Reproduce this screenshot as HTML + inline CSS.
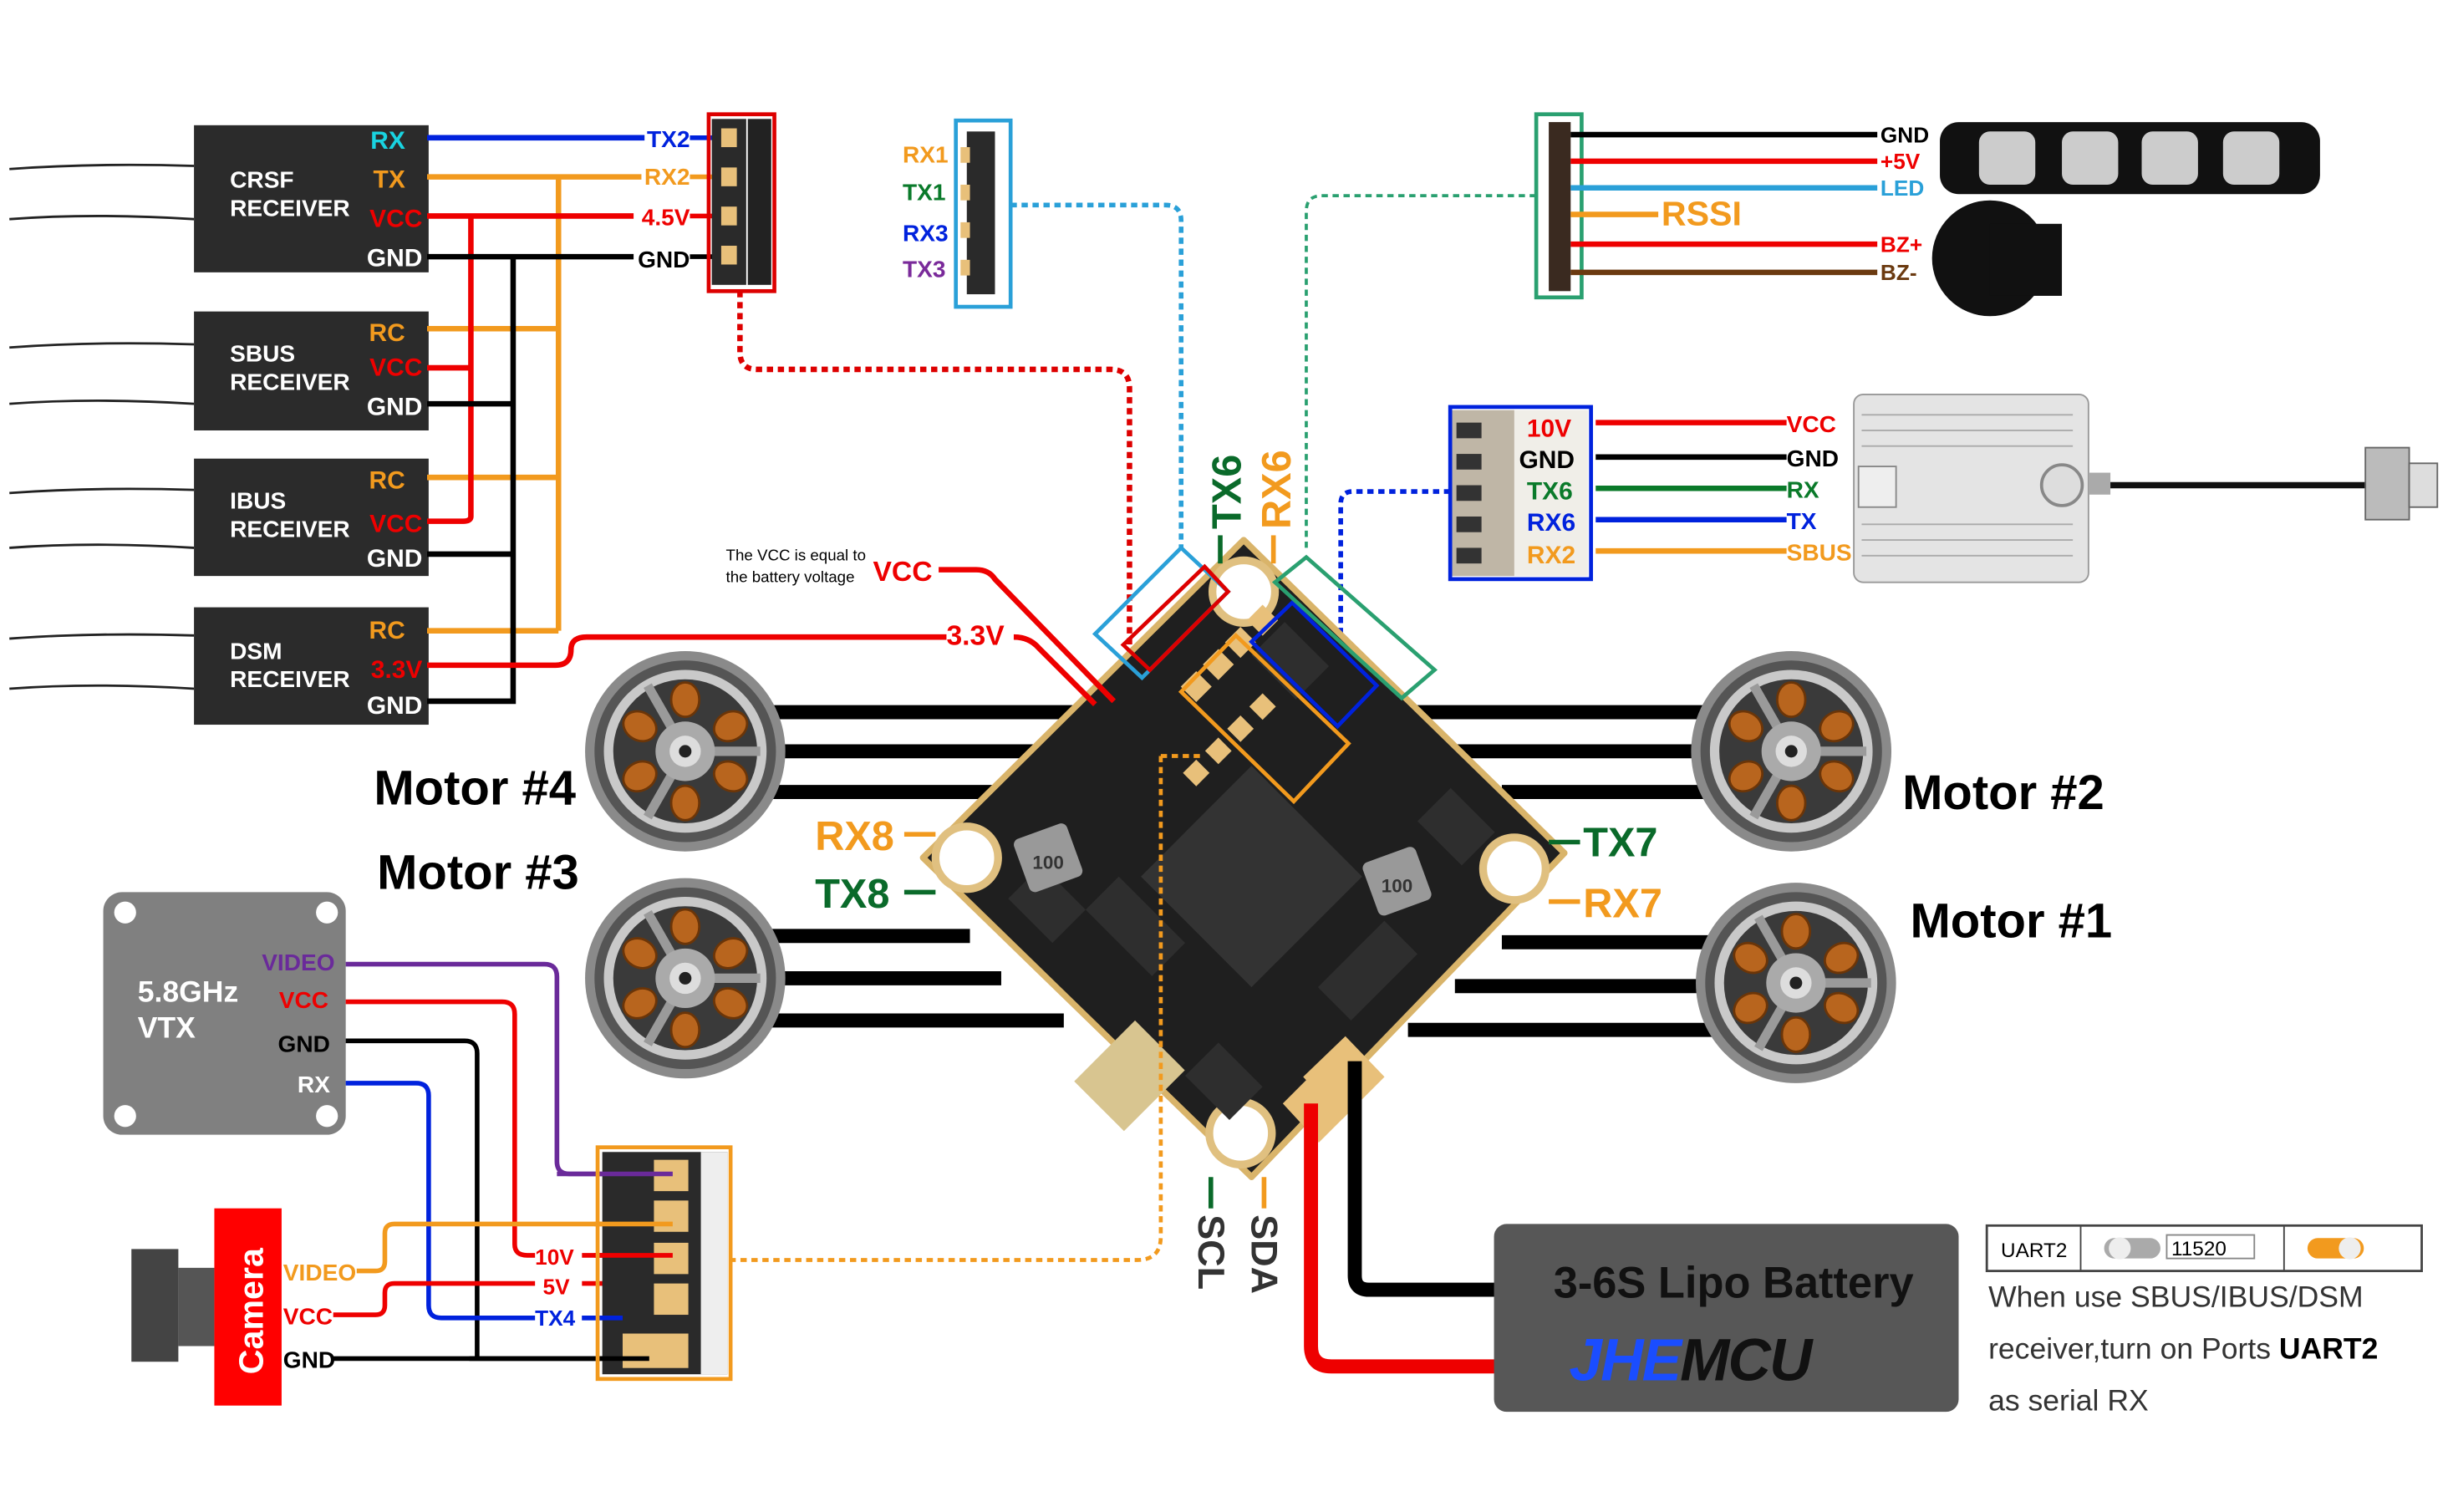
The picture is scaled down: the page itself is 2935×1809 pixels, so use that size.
<!DOCTYPE html>
<html><head><meta charset="utf-8"><style>
html,body{margin:0;padding:0;background:#fff;width:2935px;height:1809px;overflow:hidden}
svg{display:block}
text{font-family:"Liberation Sans",sans-serif;font-weight:bold}
</style></head><body>
<svg width="2935" height="1809" viewBox="0 0 1568 966" preserveAspectRatio="none" xmlns="http://www.w3.org/2000/svg">
<defs>
<g id="motor">
<circle r="64" fill="#8a8a8a"/>
<circle r="58" fill="#555"/>
<circle r="52" fill="#c9c9c9"/>
<circle r="46" fill="#3a3a3a"/>
<g fill="#b8651e" stroke="#6b3508" stroke-width="1.5">
<ellipse cx="0" cy="-33" rx="9" ry="11"/><ellipse cx="29" cy="-16" rx="9" ry="11" transform="rotate(60 29 -16)"/>
<ellipse cx="29" cy="16" rx="9" ry="11" transform="rotate(120 29 16)"/><ellipse cx="0" cy="33" rx="9" ry="11"/>
<ellipse cx="-29" cy="16" rx="9" ry="11" transform="rotate(60 -29 16)"/><ellipse cx="-29" cy="-16" rx="9" ry="11" transform="rotate(120 -29 -16)"/>
</g>
<g stroke="#9a9a9a" stroke-width="6"><line x1="0" y1="0" x2="48" y2="0"/><line x1="0" y1="0" x2="-24" y2="42"/><line x1="0" y1="0" x2="-24" y2="-42"/></g>
<circle r="19" fill="#aaa"/><circle r="10" fill="#ddd"/><circle r="4" fill="#222"/>
</g>
</defs>

<!-- Receivers -->
<g fill="#2b2b2b"><rect x="124" y="80" width="150" height="94"/><rect x="124" y="199" width="150" height="76"/><rect x="124" y="293" width="150" height="75"/><rect x="124" y="388" width="150" height="75"/></g>
<g fill="none" stroke="#222" stroke-width="1.5">
<path d="M6 108 Q60 104 124 106"/><path d="M6 140 Q60 136 124 140"/>
<path d="M6 222 Q60 218 124 220"/><path d="M6 258 Q60 254 124 258"/>
<path d="M6 315 Q60 311 124 313"/><path d="M6 350 Q60 346 124 350"/>
<path d="M6 408 Q60 404 124 406"/><path d="M6 440 Q60 436 124 440"/>
</g>
<g fill="#fff" font-size="15"><text x="147" y="120">CRSF</text><text x="147" y="138">RECEIVER</text>
<text x="147" y="231">SBUS</text><text x="147" y="249">RECEIVER</text>
<text x="147" y="325">IBUS</text><text x="147" y="343">RECEIVER</text>
<text x="147" y="421">DSM</text><text x="147" y="439">RECEIVER</text></g>
<g font-size="16" text-anchor="end">
<text x="259" y="95" fill="#19d3e0">RX</text><text x="259" y="120" fill="#f29a1e">TX</text><text x="270" y="145" fill="#e00">VCC</text><text x="270" y="170" fill="#fff">GND</text>
<text x="259" y="218" fill="#f29a1e">RC</text><text x="270" y="240" fill="#e00">VCC</text><text x="270" y="265" fill="#fff">GND</text>
<text x="259" y="312" fill="#f29a1e">RC</text><text x="270" y="340" fill="#e00">VCC</text><text x="270" y="362" fill="#fff">GND</text>
<text x="259" y="408" fill="#f29a1e">RC</text><text x="270" y="433" fill="#e00">3.3V</text><text x="270" y="456" fill="#fff">GND</text></g>
<g fill="none" stroke-width="3.5">
<path d="M273 88 H412" stroke="#0022dd"/>
<path d="M273 113 H410 M357 113 V403 M273 210 H357 M273 305 H357 M273 403 H357" stroke="#f29a1e"/>
<path d="M273 138 H405 M301 138 V330 Q301 333 296 333 H273 M273 235 H301" stroke="#e00"/>
<path d="M273 164 H405 M328 164 V448 H273 M273 258 H328 M273 354 H328" stroke="#000"/>
<path d="M273 425 H355 Q365 425 365 415 Q365 407 375 407 H605" stroke="#e00"/>
</g>
<g font-size="15" text-anchor="end"><text x="441" y="94" fill="#0022dd">TX2</text><text x="441" y="118" fill="#f29a1e">RX2</text><text x="441" y="144" fill="#e00">4.5V</text><text x="441" y="171" fill="#000">GND</text></g>
<g stroke-width="3"><line x1="441" y1="88" x2="462" y2="88" stroke="#0022dd"/><line x1="441" y1="113" x2="462" y2="113" stroke="#f29a1e"/><line x1="441" y1="138" x2="462" y2="138" stroke="#e00"/><line x1="441" y1="164" x2="462" y2="164" stroke="#000"/></g>
<rect x="455" y="76" width="22" height="106" fill="#2a2a2a"/>
<g fill="#e8c07a"><rect x="461" y="82" width="10" height="12"/><rect x="461" y="107" width="10" height="12"/><rect x="461" y="132" width="10" height="12"/><rect x="461" y="157" width="10" height="12"/></g>
<rect x="478" y="76" width="15" height="106" fill="#222"/>
<rect x="453" y="73" width="42" height="113" fill="none" stroke="#d00" stroke-width="2.5"/>
<path d="M473 186 V225 Q473 236 484 236 H710 Q722 236 722 248 V440" fill="none" stroke="#d00" stroke-width="3.5" stroke-dasharray="4 3"/>

<g font-size="15"><text x="577" y="104" fill="#f29a1e">RX1</text><text x="577" y="128" fill="#0a7a2a">TX1</text><text x="577" y="154" fill="#0022dd">RX3</text><text x="577" y="177" fill="#7a2a9a">TX3</text></g>
<rect x="618" y="84" width="18" height="104" fill="#2a2a2a"/>
<g fill="#e8c07a"><rect x="614" y="94" width="6" height="10"/><rect x="614" y="118" width="6" height="10"/><rect x="614" y="142" width="6" height="10"/><rect x="614" y="166" width="6" height="10"/></g>
<rect x="611" y="77" width="35" height="119" fill="none" stroke="#2aa0d8" stroke-width="2.5"/>
<path d="M646 131 H745 Q755 131 755 141 V350" fill="none" stroke="#2aa0d8" stroke-width="3" stroke-dasharray="4 3"/>

<path d="M835 350 V135 Q835 125 845 125 H982" fill="none" stroke="#2aa070" stroke-width="2" stroke-dasharray="4 3"/>
<rect x="990" y="78" width="14" height="108" fill="#3a2a20"/>
<rect x="982" y="73" width="29" height="117" fill="none" stroke="#2aa070" stroke-width="2.5"/>
<g fill="none" stroke-width="3.5">
<path d="M1004 86 H1200" stroke="#000"/><path d="M1004 103 H1200" stroke="#e00"/><path d="M1004 120 H1200" stroke="#2aa0d8"/>
<path d="M1004 137 H1060" stroke="#f29a1e"/><path d="M1004 156 H1200" stroke="#e00"/><path d="M1004 174 H1200" stroke="#6b3a10"/></g>
<text x="1062" y="144" font-size="22" fill="#f29a1e">RSSI</text>
<g font-size="14"><text x="1202" y="91" fill="#000">GND</text><text x="1202" y="108" fill="#e00">+5V</text><text x="1202" y="125" fill="#2aa0d8">LED</text><text x="1202" y="161" fill="#e00">BZ+</text><text x="1202" y="179" fill="#6b3a10">BZ-</text></g>
<rect x="1240" y="78" width="243" height="46" rx="12" fill="#111"/>
<g fill="#ccc"><rect x="1265" y="84" width="36" height="34" rx="7"/><rect x="1318" y="84" width="36" height="34" rx="7"/><rect x="1369" y="84" width="36" height="34" rx="7"/><rect x="1421" y="84" width="36" height="34" rx="7"/></g>
<circle cx="1272" cy="165" r="37" fill="#111"/><rect x="1272" y="143" width="46" height="46" fill="#111"/>

<path d="M927 314 H865 Q857 314 857 322 V420" fill="none" stroke="#0022dd" stroke-width="3" stroke-dasharray="4 3"/>
<rect x="928" y="262" width="40" height="106" fill="#bfb6a6"/>
<g fill="#333"><rect x="931" y="270" width="16" height="10"/><rect x="931" y="290" width="16" height="10"/><rect x="931" y="310" width="16" height="10"/><rect x="931" y="330" width="16" height="10"/><rect x="931" y="350" width="16" height="10"/></g>
<rect x="968" y="262" width="47" height="106" fill="#f0eee8"/>
<rect x="927" y="260" width="90" height="110" fill="none" stroke="#0022dd" stroke-width="2.5"/>
<g font-size="16"><text x="976" y="279" fill="#e00">10V</text><text x="971" y="299" fill="#000">GND</text><text x="976" y="319" fill="#0a7a2a">TX6</text><text x="976" y="339" fill="#0022dd">RX6</text><text x="976" y="360" fill="#f29a1e">RX2</text></g>
<g stroke-width="3.5"><line x1="1020" y1="270" x2="1142" y2="270" stroke="#e00"/><line x1="1020" y1="292" x2="1142" y2="292" stroke="#000"/><line x1="1020" y1="312" x2="1142" y2="312" stroke="#0a7a2a"/><line x1="1020" y1="332" x2="1142" y2="332" stroke="#0022dd"/><line x1="1020" y1="352" x2="1142" y2="352" stroke="#f29a1e"/></g>
<g font-size="15"><text x="1142" y="276" fill="#e00">VCC</text><text x="1142" y="298" fill="#000">GND</text><text x="1142" y="318" fill="#0a7a2a">RX</text><text x="1142" y="338" fill="#0022dd">TX</text><text x="1142" y="358" fill="#f29a1e">SBUS</text></g>
<rect x="1185" y="252" width="150" height="120" rx="6" fill="#e4e4e4" stroke="#999"/>
<g stroke="#aaa"><line x1="1190" y1="265" x2="1325" y2="265"/><line x1="1190" y1="275" x2="1325" y2="275"/><line x1="1190" y1="285" x2="1325" y2="285"/><line x1="1190" y1="335" x2="1325" y2="335"/><line x1="1190" y1="345" x2="1325" y2="345"/><line x1="1190" y1="355" x2="1325" y2="355"/></g>
<rect x="1188" y="298" width="24" height="26" fill="#eee" stroke="#888"/>
<circle cx="1318" cy="310" r="13" fill="#ddd" stroke="#888" stroke-width="2"/>
<rect x="1335" y="302" width="14" height="14" fill="#aaa"/>
<line x1="1349" y1="310" x2="1512" y2="310" stroke="#111" stroke-width="4"/>
<rect x="1512" y="286" width="28" height="46" fill="#bbb" stroke="#666"/><rect x="1540" y="296" width="18" height="28" fill="#ddd" stroke="#666"/>

<g stroke="#000" stroke-width="9">
<line x1="470" y1="455" x2="720" y2="455"/><line x1="470" y1="480" x2="680" y2="480"/><line x1="470" y1="506" x2="650" y2="506"/>
<line x1="470" y1="598" x2="620" y2="598"/><line x1="470" y1="625" x2="640" y2="625"/><line x1="470" y1="652" x2="680" y2="652"/>
<line x1="900" y1="455" x2="1110" y2="455"/><line x1="930" y1="480" x2="1110" y2="480"/><line x1="960" y1="506" x2="1110" y2="506"/>
<line x1="960" y1="602" x2="1110" y2="602"/><line x1="930" y1="630" x2="1110" y2="630"/><line x1="900" y1="658" x2="1110" y2="658"/></g>
<use href="#motor" x="438" y="480"/><use href="#motor" x="438" y="625"/><use href="#motor" x="1145" y="480"/><use href="#motor" x="1148" y="628"/>
<g font-size="31" fill="#000"><text x="239" y="514">Motor #4</text><text x="241" y="568">Motor #3</text><text x="1216" y="517">Motor #2</text><text x="1221" y="599">Motor #1</text></g>

<polygon points="795,345 1000,545 800,752 590,548" fill="#1f1f1f" stroke="#d9b46a" stroke-width="4" stroke-linejoin="round"/>
<circle cx="795" cy="378" r="20" fill="#fff" stroke="#e0c080" stroke-width="5"/>
<circle cx="618" cy="548" r="20" fill="#fff" stroke="#e0c080" stroke-width="5"/>
<circle cx="968" cy="555" r="20" fill="#fff" stroke="#e0c080" stroke-width="5"/>
<circle cx="793" cy="724" r="20" fill="#fff" stroke="#e0c080" stroke-width="5"/>
<g transform="rotate(45 800 560)" fill="#2e2e2e">
<rect x="750" y="510" width="100" height="100" fill="#333"/>
<rect x="700" y="430" width="40" height="30"/><rect x="850" y="430" width="40" height="30"/><rect x="700" y="650" width="40" height="30"/><rect x="860" y="650" width="40" height="30"/>
<rect x="740" y="620" width="60" height="30"/><rect x="880" y="520" width="30" height="60"/>
</g>
<rect x="652" y="530" width="36" height="36" rx="4" fill="#999" transform="rotate(-20 670 548)"/><text x="660" y="555" font-size="12" fill="#333">100</text>
<rect x="875" y="545" width="36" height="36" rx="4" fill="#999" transform="rotate(-20 893 563)"/><text x="883" y="570" font-size="12" fill="#333">100</text>
<g fill="#e8c07a" transform="rotate(45 800 450)"><rect x="760" y="400" width="14" height="14"/><rect x="760" y="420" width="14" height="14"/><rect x="760" y="440" width="14" height="14"/><rect x="760" y="460" width="14" height="14"/>
<rect x="800" y="440" width="12" height="12"/><rect x="800" y="460" width="12" height="12"/><rect x="800" y="480" width="12" height="12"/><rect x="800" y="500" width="12" height="12"/></g>
<rect x="695" y="665" width="55" height="45" fill="#d8c590" transform="rotate(-45 722 688)"/>
<polygon points="833,688 860,662 885,688 858,715" fill="#e8c07a"/>
<polygon points="820,705 845,680 868,705 843,730" fill="#e8c07a"/>
<polygon points="755,350 785,378 730,433 700,405" fill="none" stroke="#2aa0d8" stroke-width="2.5"/>
<polygon points="770,362 785,378 735,428 718,412" fill="none" stroke="#d00" stroke-width="2.5"/>
<polygon points="790,406 862,475 827,512 755,442" fill="none" stroke="#f29a1e" stroke-width="2.5"/>
<polygon points="826,385 880,438 855,464 800,410" fill="none" stroke="#0022dd" stroke-width="2.5"/>
<polygon points="835,356 917,428 896,446 815,372" fill="none" stroke="#2aa070" stroke-width="2.5"/>
<path d="M742 483 H770 M742 483 V790 Q742 805 727 805 H468" fill="none" stroke="#f29a1e" stroke-width="2.5" stroke-dasharray="4 3"/>

<text transform="translate(793 338) rotate(-90)" font-size="26" fill="#0a6a2a">TX6</text>
<text transform="translate(825 338) rotate(-90)" font-size="26" fill="#f29a1e">RX6</text>
<line x1="780" y1="342" x2="780" y2="360" stroke="#0a6a2a" stroke-width="3"/><line x1="814" y1="342" x2="814" y2="360" stroke="#f29a1e" stroke-width="3"/>
<text x="464" y="358" font-size="10" fill="#000" style="font-weight:normal">The VCC is equal to</text>
<text x="464" y="372" font-size="10" fill="#000" style="font-weight:normal">the battery voltage</text>
<text x="558" y="371" font-size="18" fill="#e00">VCC</text>
<path d="M600 364 H624 Q632 364 636 370 L712 448" fill="none" stroke="#e00" stroke-width="3.5"/>
<text x="605" y="412" font-size="18" fill="#e00">3.3V</text>
<path d="M648 407 Q658 407 664 414 L700 450" fill="none" stroke="#e00" stroke-width="3.5"/>
<text x="521" y="543" font-size="26" fill="#f29a1e">RX8</text><line x1="578" y1="533" x2="598" y2="533" stroke="#f29a1e" stroke-width="3"/>
<text x="521" y="580" font-size="26" fill="#0a6a2a">TX8</text><line x1="578" y1="570" x2="598" y2="570" stroke="#0a6a2a" stroke-width="3"/>
<text x="1012" y="547" font-size="26" fill="#0a6a2a">TX7</text><line x1="990" y1="538" x2="1010" y2="538" stroke="#0a6a2a" stroke-width="3"/>
<text x="1012" y="586" font-size="26" fill="#f29a1e">RX7</text><line x1="990" y1="576" x2="1010" y2="576" stroke="#f29a1e" stroke-width="3"/>
<line x1="774" y1="752" x2="774" y2="772" stroke="#0a6a2a" stroke-width="3"/><line x1="808" y1="752" x2="808" y2="772" stroke="#f29a1e" stroke-width="3"/>
<text transform="translate(766 776) rotate(90)" font-size="24" fill="#333">SCL</text>
<text transform="translate(800 776) rotate(90)" font-size="24" fill="#333">SDA</text>

<path d="M838 705 V860 Q838 873 851 873 H956" fill="none" stroke="#e00" stroke-width="9"/>
<path d="M866 678 V815 Q866 824 875 824 H956" fill="none" stroke="#000" stroke-width="9"/>
<rect x="955" y="782" width="297" height="120" rx="8" fill="#575757"/>
<text x="993" y="829" font-size="28" fill="#111">3-6S Lipo Battery</text>
<text x="1003" y="882" font-size="38" font-style="italic" letter-spacing="-1"><tspan fill="#1a4dff">JHE</tspan><tspan fill="#111">MCU</tspan></text>
<rect x="1270" y="783" width="278" height="29" fill="#fff" stroke="#444" stroke-width="1.5"/>
<line x1="1330" y1="783" x2="1330" y2="812" stroke="#444"/><line x1="1460" y1="783" x2="1460" y2="812" stroke="#444"/>
<text x="1279" y="803" font-size="13" style="font-weight:normal" fill="#000">UART2</text>
<rect x="1345" y="791" width="36" height="13" rx="6.5" fill="#aaa"/><circle cx="1355" cy="797.5" r="7" fill="#eee"/>
<rect x="1385" y="789" width="56" height="15" fill="#fff" stroke="#888"/><text x="1388" y="802" font-size="13" style="font-weight:normal">11520</text>
<rect x="1475" y="791" width="36" height="13" rx="6.5" fill="#f29a1e"/><circle cx="1502" cy="797.5" r="7" fill="#eee"/>
<g font-size="19" fill="#333"><text x="1271" y="835" style="font-weight:normal">When use SBUS/IBUS/DSM</text>
<text x="1271" y="868" style="font-weight:normal">receiver,turn on Ports <tspan style="font-weight:bold" fill="#000">UART2</tspan></text>
<text x="1271" y="901" style="font-weight:normal">as serial RX</text></g>

<rect x="66" y="570" width="155" height="155" rx="12" fill="#808080"/>
<g fill="#fff"><circle cx="80" cy="583" r="7"/><circle cx="209" cy="583" r="7"/><circle cx="80" cy="713" r="7"/><circle cx="209" cy="713" r="7"/></g>
<text x="88" y="640" font-size="19" fill="#fff">5.8GHz</text><text x="88" y="663" font-size="19" fill="#fff">VTX</text>
<g font-size="15" text-anchor="end"><text x="214" y="620" fill="#6a2a9a">VIDEO</text><text x="210" y="644" fill="#e00">VCC</text><text x="211" y="672" fill="#000">GND</text><text x="211" y="698" fill="#fff">RX</text></g>
<g fill="none" stroke-width="3">
<path d="M221 616 H348 Q356 616 356 624 V742 Q356 750 364 750 H430" stroke="#6a2a9a"/>
<path d="M221 640 H321 Q329 640 329 648 V795 Q329 802 337 802 H342" stroke="#e00"/>
<path d="M372 802 H430" stroke="#e00"/>
<path d="M221 665 H297 Q305 665 305 673 V867" stroke="#000"/>
<path d="M221 692 H266 Q274 692 274 700 V834 Q274 842 282 842 H342" stroke="#0022dd"/>
<path d="M372 842 H398" stroke="#0022dd"/>
<path d="M228 812 H240 Q246 812 246 806 V788 Q246 782 252 782 H430" stroke="#f29a1e"/>
<path d="M213 840 H240 Q246 840 246 834 V826 Q246 820 252 820 H342" stroke="#e00"/>
<path d="M372 820 H420 Q428 820 428 828 V832" stroke="#e00"/>
<path d="M213 868 H415" stroke="#000"/>
</g>
<g font-size="14"><text x="342" y="808" fill="#e00">10V</text><text x="347" y="827" fill="#e00">5V</text><text x="342" y="847" fill="#0022dd">TX4</text></g>
<rect x="385" y="736" width="80" height="142" fill="#2a2a2a"/>
<rect x="448" y="736" width="17" height="142" fill="#eee"/>
<g fill="#e8c07a"><rect x="418" y="741" width="22" height="20"/><rect x="418" y="767" width="22" height="20"/><rect x="418" y="794" width="22" height="20"/><rect x="418" y="820" width="22" height="20"/><rect x="398" y="852" width="42" height="22"/></g>
<line x1="356" y1="750" x2="430" y2="750" stroke="#6a2a9a" stroke-width="3"/>
<line x1="380" y1="782" x2="430" y2="782" stroke="#f29a1e" stroke-width="3"/>
<line x1="380" y1="802" x2="430" y2="802" stroke="#e00" stroke-width="3"/>
<line x1="372" y1="842" x2="398" y2="842" stroke="#0022dd" stroke-width="3"/>
<line x1="300" y1="868" x2="415" y2="868" stroke="#000" stroke-width="3"/>
<rect x="382" y="733" width="85" height="148" fill="none" stroke="#f29a1e" stroke-width="2.5"/>

<rect x="84" y="798" width="30" height="72" fill="#444"/><rect x="114" y="810" width="23" height="50" fill="#555"/>
<rect x="137" y="772" width="43" height="126" fill="#f00"/>
<text transform="translate(168 878) rotate(-90)" font-size="22" fill="#fff">Camera</text>
<g font-size="15"><text x="181" y="818" fill="#f29a1e">VIDEO</text><text x="181" y="846" fill="#e00">VCC</text><text x="181" y="874" fill="#000">GND</text></g>
</svg>
</body></html>
